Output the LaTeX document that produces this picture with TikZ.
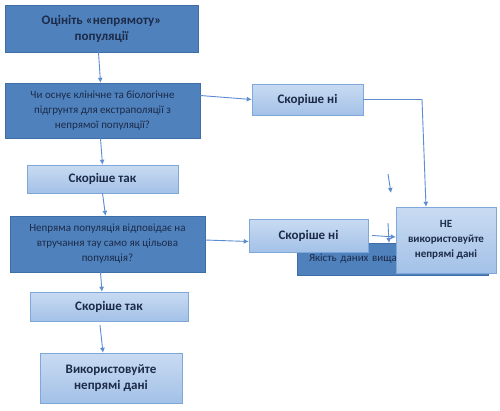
\documentclass[tikz,border=0pt]{standalone}
\usepackage{fontspec}
\setmainfont{Carlito}
\usepackage{tikz}
\usetikzlibrary{positioning,arrows.meta,shapes,calc}
\usepackage{xcolor}
\definecolor{boxdark}{HTML}{4F81BD}
\definecolor{edgedark}{HTML}{3F6DA8}
\definecolor{boxtop}{HTML}{C9DBF2}
\definecolor{boxbot}{HTML}{A3C1E7}
\definecolor{edgelight}{HTML}{7FA7DA}
\definecolor{inkblue}{HTML}{1C2B48}
\definecolor{linkblue}{HTML}{5B8BD0}

\begin{document}
\begin{tikzpicture}[
      x=1pt, y=-1pt,
      dark/.style={draw=edgedark,fill=boxdark,text=inkblue,align=center,inner sep=2pt},
      light/.style={draw=edgelight,top color=boxtop,bottom color=boxbot,text=inkblue,
                    align=center,inner sep=2pt},
      big/.style={font=\fontsize{13}{16}\selectfont\bfseries},
      small/.style={font=\fontsize{11}{15}\selectfont},
      arr/.style={-{Latex[length=5pt,width=5pt]},linkblue,line width=0.9pt}]
    \useasboundingbox (0,0) rectangle (500,410);
    \node[dark,big,minimum width=193pt,minimum height=47pt] (est) at (101.5,28.5)
      {Оцініть «непрямоту»\\популяції};
    \node[dark,small,minimum width=195pt,minimum height=55pt] (q1) at (102.5,110.5)
      {Чи оснує клінічне та біологічне\\підгрунтя для екстраполяції з\\непрямої популяції?};
    \node[light,big,minimum width=111pt,minimum height=31pt] (no1) at (307.5,99.5) {Скоріше ні};
    \node[light,big,minimum width=151pt,minimum height=28pt] (yes1) at (102.5,179) {Скоріше так};
    \node[dark,small,minimum width=195pt,minimum height=56pt] (q2) at (107.5,244)
      {Непряма популяція відповідає на\\втручання тау само як цільова\\популяція?};
    \node[dark,small,minimum width=191pt,minimum height=32pt,text width=167pt,align=left,
          inner xsep=12pt] (qual) at (392.5,259) {Якість даних вища};
    \node[light,big,minimum width=119pt,minimum height=33pt] (no2) at (308.5,235.5) {Скоріше ні};
    \node[light,small,font=\fontsize{11}{15}\selectfont\bfseries,
          minimum width=100pt,minimum height=66pt] (ne) at (446,240)
      {НЕ\\використовуйте\\непрямі дані};
    \node[light,big,minimum width=158pt,minimum height=29pt] (yes2) at (109,306.5) {Скоріше так};
    \node[light,big,minimum width=142pt,minimum height=50pt] (use) at (111,378)
      {Використовуйте\\непрямі дані};
    \coordinate (d1) at (388,174);
    \coordinate (d2) at (391,193);
    \coordinate (d3) at (388,223);
    \coordinate (d4) at (389,243);
    \draw[arr] ([xshift=-3pt]est.south) -- ([xshift=-2pt]q1.north);
    \draw[arr] ([yshift=15pt]q1.east) -- (no1.west);
    \draw[arr] ([xshift=-2pt]q1.south) -- (yes1.north);
    \draw[arr] (yes1.south) -- ([xshift=-2pt]q2.north);
    \draw[arr] ([yshift=4pt]q2.east) -- ([yshift=-6pt]no2.west);
    \draw[arr] ([xshift=-7pt]q2.south) -- ([xshift=-7pt]yes2.north);
    \draw[arr] ([xshift=-9pt,yshift=-4pt]yes2.south) -- ([xshift=-8pt]use.north);
    \draw[arr] (no1.east) -- ([xshift=-24pt]ne.north |- no1.east) -- ([xshift=-20pt]ne.north);
    \draw[arr] ([xshift=4pt]no2.east) -- ([yshift=3pt]ne.west);
    \draw[arr] (d1) -- (d2);
    \draw[arr] (d3) -- (d4);
  \end{tikzpicture}
\end{document}
